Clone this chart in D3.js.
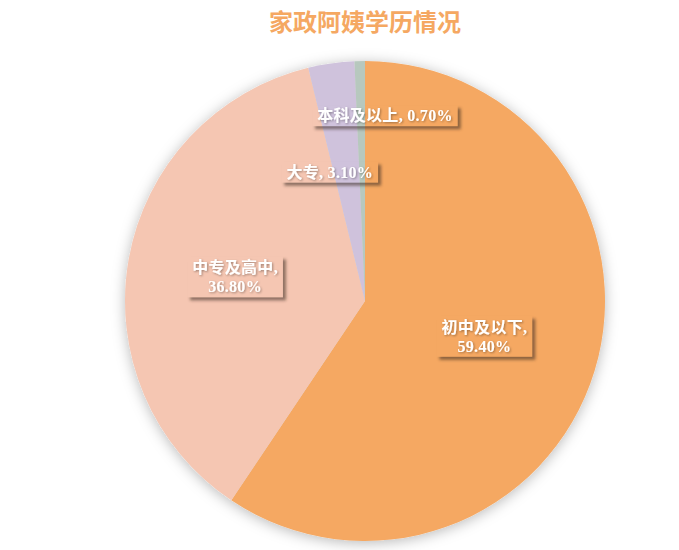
<!DOCTYPE html>
<html>
<head>
<meta charset="utf-8">
<script src="https://cdn.jsdelivr.net/npm/d3@7"></script>
<style>
  body { margin: 0; background: #fff; }
  svg { display: block; }
</style>
</head>
<body>
<div id="chart"></div>
<script>
// data
var categories = ["初中及以下", "中专及高中", "大专", "本科及以上"];
var values = [59.4, 36.8, 3.1, 0.7];
var colors = ["#F5A862", "#F5C6B2", "#CFC2DC", "#B7C8BE"];
var title = "家政阿姨学历情况";

var width = 679, height = 550,
    cx = 365, cy = 301, radius = 240;

// where each label sits: fraction of radius along the mid angle, plus a sideways nudge
var labelPlace = {
  "初中及以下": { k: 0.52, dx: 0, twoLines: true },
  "中专及高中": { k: 0.55, dx: 0, twoLines: true },
  "大专": { k: 0.54, dx: -17, twoLines: false },
  "本科及以上": { k: 0.77, dx: 24, twoLines: false }
};

var font = "'Liberation Serif', 'Noto Sans CJK SC', serif";

var svg = d3.select("#chart").append("svg")
  .attr("width", width)
  .attr("height", height);

var defs = svg.append("defs");
defs.append("filter").attr("id", "pieShadow")
  .attr("x", "-20%").attr("y", "-20%").attr("width", "140%").attr("height", "140%")
  .append("feDropShadow")
  .attr("dx", 0).attr("dy", 2).attr("stdDeviation", 7)
  .attr("flood-color", "#000").attr("flood-opacity", 0.28);
defs.append("filter").attr("id", "blur")
  .attr("x", "-20%").attr("y", "-50%").attr("width", "140%").attr("height", "200%")
  .append("feGaussianBlur").attr("stdDeviation", 1.8);
defs.append("filter").attr("id", "textShadow")
  .append("feDropShadow")
  .attr("dx", 1).attr("dy", 1).attr("stdDeviation", 0.8)
  .attr("flood-color", "#000").attr("flood-opacity", 0.35);

// title
svg.append("text")
  .attr("x", cx)
  .attr("y", 31)
  .attr("text-anchor", "middle")
  .attr("font-family", font)
  .attr("font-weight", "bold")
  .attr("font-size", 24)
  .attr("fill", "#F5A862")
  .text(title);

var rows = categories.map(function(c, i) { return { name: c, value: values[i], color: colors[i] }; });

var pie = d3.pie().sort(null).value(function(d) { return d.value; });
var arc = d3.arc().innerRadius(0).outerRadius(radius);
var arcs = pie(rows);

var g = svg.append("g").attr("transform", "translate(" + cx + "," + cy + ")");

g.append("g").attr("filter", "url(#pieShadow)")
  .selectAll("path")
  .data(arcs)
  .enter().append("path")
  .attr("d", arc)
  .attr("fill", function(d) { return d.data.color; });

// labels: clear box, only its drop shadow shows outside it
var labels = g.selectAll("g.label")
  .data(arcs)
  .enter().append("g")
  .attr("class", "label")
  .attr("transform", function(d) {
    var p = labelPlace[d.data.name];
    var a = (d.startAngle + d.endAngle) / 2;
    var r = radius * p.k;
    return "translate(" + (Math.sin(a) * r + p.dx) + "," + (-Math.cos(a) * r) + ")";
  });

labels.each(function(d, i) {
  var lab = d3.select(this);
  var p = labelPlace[d.data.name];
  var pct = d.data.value.toFixed(2) + "%";
  var lines = p.twoLines ? [d.data.name + ",", pct] : [d.data.name + ", " + pct];
  var lh = 19;

  var shadow = lab.append("rect")
    .attr("fill", "#3a2a20")
    .attr("opacity", 0.55)
    .attr("filter", "url(#blur)");

  var t = lab.append("text")
    .attr("text-anchor", "middle")
    .attr("font-family", font)
    .attr("font-weight", "bold")
    .attr("font-size", 16)
    .attr("letter-spacing", 0.3)
    .attr("fill", "#fff")
    .attr("filter", "url(#textShadow)");

  lines.forEach(function(line, j) {
    t.append("tspan")
      .attr("x", 0)
      .attr("y", (j - (lines.length - 1) / 2) * lh + 5)
      .text(line);
  });

  var bb = t.node().getBBox();
  var bx = bb.x - 5, by = bb.y - 2, bw = bb.width + 10, bh = bb.height + 4;

  var mask = defs.append("mask").attr("id", "lm" + i)
    .attr("maskUnits", "userSpaceOnUse")
    .attr("x", bx - 20).attr("y", by - 20).attr("width", bw + 40).attr("height", bh + 40);
  mask.append("rect")
    .attr("x", bx - 20).attr("y", by - 20).attr("width", bw + 40).attr("height", bh + 40)
    .attr("fill", "#fff");
  mask.append("rect")
    .attr("x", bx).attr("y", by).attr("width", bw).attr("height", bh)
    .attr("fill", "#000");

  shadow.attr("x", bx + 3).attr("y", by + 3)
    .attr("width", bw).attr("height", bh);
  lab.insert("g", "rect").attr("mask", "url(#lm" + i + ")").node()
    .appendChild(shadow.node());
});
</script>
</body>
</html>
